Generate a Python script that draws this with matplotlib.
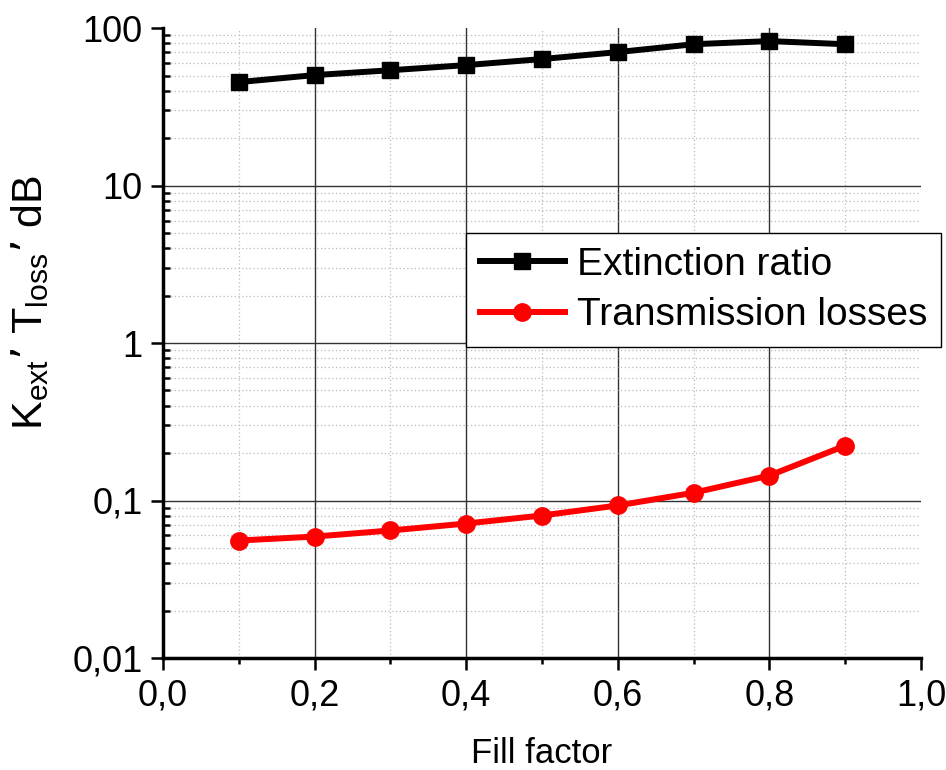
import matplotlib
matplotlib.use("Agg")
import matplotlib.pyplot as plt
from matplotlib.ticker import FixedLocator, FuncFormatter, NullFormatter

plt.rcParams['font.family'] = ['Liberation Sans', 'DejaVu Sans']

fill_factor = [0.1, 0.2, 0.3, 0.4, 0.5, 0.6, 0.7, 0.8, 0.9]
extinction_ratio = [45.4, 50.3, 54.0, 58.2, 63.6, 70.4, 79.0, 82.7, 79.0]
transmission_losses = [0.0557, 0.059, 0.0645, 0.0714, 0.0803, 0.093, 0.112, 0.144, 0.223]

x_major = [0.0, 0.2, 0.4, 0.6, 0.8, 1.0]
x_minor = [0.1, 0.3, 0.5, 0.7, 0.9]
y_major = [0.01, 0.1, 1, 10, 100]
y_minor = [k * 10.0 ** n for n in range(-2, 2) for k in range(2, 10)]


def comma(v, pos=None):
    if v >= 1:
        return "%d" % round(v)
    s = ("%.2f" % v).rstrip("0") if v < 0.1 else "%.1f" % v
    return s.replace(".", ",")


fig = plt.figure(figsize=(9.46, 7.7), dpi=100)
ax = fig.add_axes([0.1723, 0.1455, 0.8013, 0.818])

ax.set_yscale('log')
ax.set_xlim(0, 1)
ax.set_ylim(0.01, 100)

# grid drawn by hand so the edges stay clean
for x in x_major[1:-1]:
    ax.axvline(x, color='#333333', lw=1.0, zorder=1)
for x in x_minor:
    ax.axvline(x, color='#bbbbbb', lw=0.9, ls=(0, (1, 2)), zorder=1)
for y in y_major[1:-1]:
    ax.axhline(y, color='#333333', lw=1.0, zorder=1)
for y in y_minor:
    ax.axhline(y, color='#bbbbbb', lw=0.9, ls=(0, (1, 2)), zorder=1)

ax.plot(fill_factor, extinction_ratio, color='black', lw=4.3, marker='s',
        markersize=11, label='Extinction ratio', zorder=3)
ax.plot(fill_factor, transmission_losses, color='red', lw=4.3, marker='o',
        markersize=12.5, label='Transmission losses', zorder=3)

ax.xaxis.set_major_locator(FixedLocator(x_major))
ax.xaxis.set_minor_locator(FixedLocator(x_minor))
ax.xaxis.set_major_formatter(FuncFormatter(lambda v, p: ("%.1f" % v).replace(".", ",")))
ax.yaxis.set_major_locator(FixedLocator(y_major))
ax.yaxis.set_minor_locator(FixedLocator(y_minor))
ax.yaxis.set_major_formatter(FuncFormatter(comma))
ax.yaxis.set_minor_formatter(NullFormatter())

ax.tick_params(axis='both', which='major', direction='out', length=8.5, width=1.8,
               labelsize=26, pad=6)
ax.tick_params(axis='x', which='minor', direction='out', length=4.5, width=1.8)
ax.tick_params(axis='y', which='minor', direction='in', length=5, width=1.8)

for side in ['top', 'right']:
    ax.spines[side].set_visible(False)
for side in ['left', 'bottom']:
    ax.spines[side].set_linewidth(2.5)

ax.set_xlabel('Fill factor', fontsize=25, labelpad=17)
ax.set_ylabel('K$_\\mathregular{ext}$\u2019 T$_\\mathregular{loss}$\u2019 dB', fontsize=31)
ax.yaxis.set_label_coords(-0.148, 0.565)

leg = ax.legend(loc='upper left', bbox_to_anchor=(0.4926, 0.6974),
                bbox_transform=fig.transFigure, fontsize=28, handlelength=2.2,
                handletextpad=0.3, borderpad=0.35, labelspacing=0.38,
                fancybox=False, framealpha=1, edgecolor='black', borderaxespad=0)
leg.get_frame().set_linewidth(1.0)

fig.savefig('out.png', dpi=100)
